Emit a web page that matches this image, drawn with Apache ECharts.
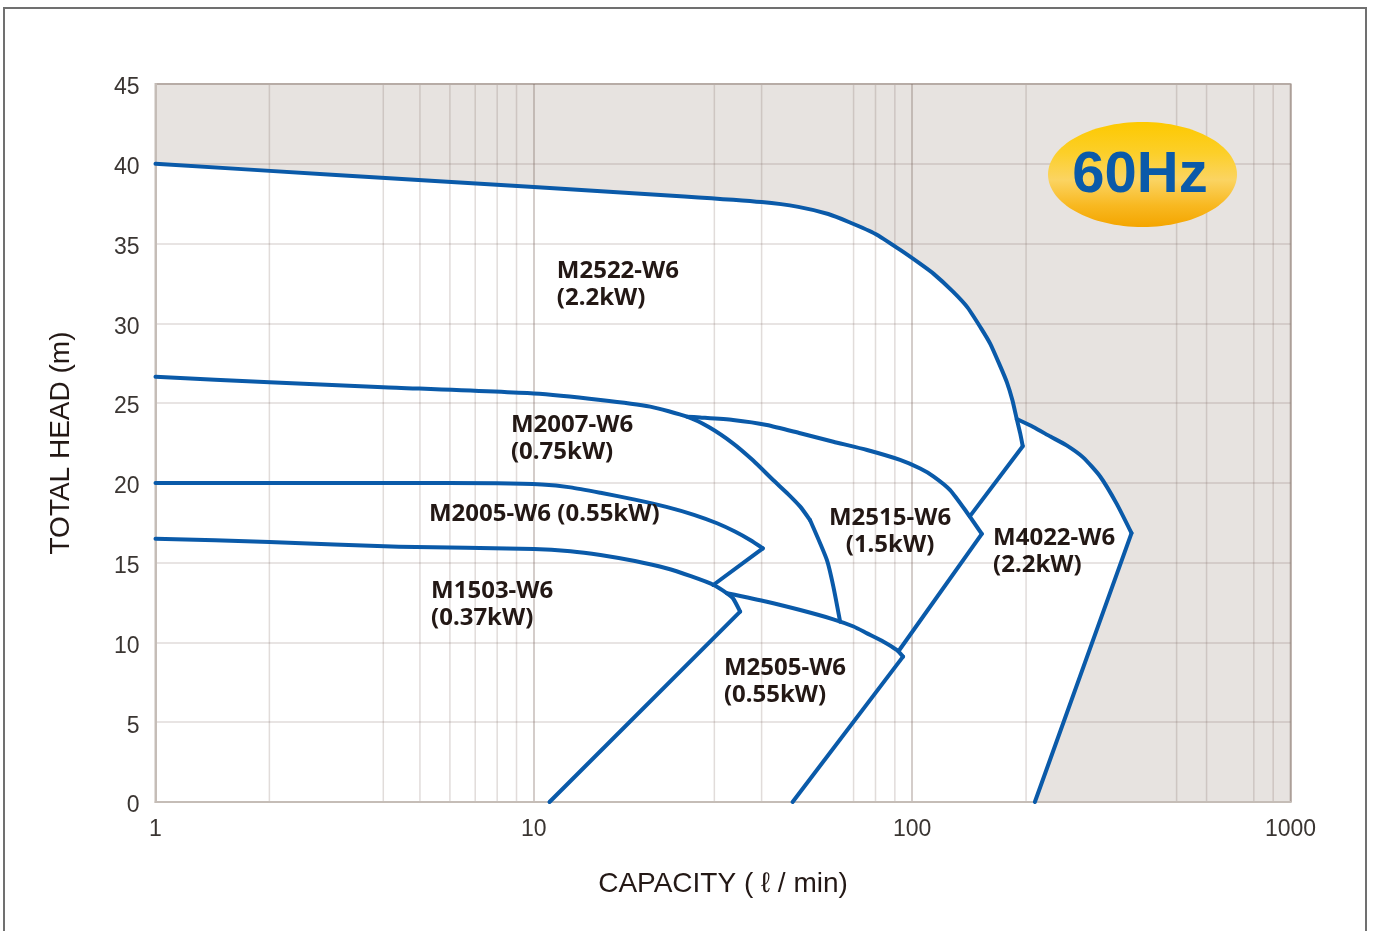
<!DOCTYPE html>
<html>
<head>
<meta charset="utf-8">
<script src="https://cdn.jsdelivr.net/npm/echarts@6/dist/echarts.min.js"></script>
<style>
html,body{margin:0;padding:0;background:#ffffff;}
#c{width:1373px;height:931px;}
</style>
</head>
<body>
<div id="c"></div>
<script>
// ---------- axis / tick data ----------
const xTickLabels = [1, 10, 100, 1000];
const yTickLabels = [0, 5, 10, 15, 20, 25, 30, 35, 40, 45];
const minorGridX = [2, 4, 5, 6, 7, 8, 9, 30, 40, 70, 80, 90, 200, 500, 600, 800, 900];

// ---------- pump curves: [capacity (l/min), total head (m)] ----------
const m2522Top = [[1,40.0],[3,39.3],[10,38.55],[25,37.95],[40,37.6],[50,37.3],[60,36.85],[68,36.35],[80,35.6],[93,34.6],[104,33.8],[114,33.1],[128,32.0],[140,31.0],[152,29.7],[161,28.7],[171,27.3],[178,26.3],[184,25.2],[189,24.0],[193,23.1],[196,22.3]];
const m2522Low = [[196,22.3],[142,17.9]];

const m4022Top = [[189,24.0],[209,23.5],[232,22.9],[256,22.35],[283,21.6],[314,20.4],[347,18.7],[380,16.85]];
const m4022Low = [[380,16.85],[211,0]];

const m2007Top = [[1,26.65],[2,26.3],[4,26.0],[10,25.6],[15,25.2],[20.3,24.78],[25.4,24.15],[29,23.5],[33.6,22.48],[38,21.4],[42.9,20.18],[47,19.3],[50.6,18.51],[53.7,17.67]];
const m2007Low = [[53.7,17.67],[59.5,15.17],[61.9,13.5],[64.5,11.3]];

const m2515Top = [[25.4,24.15],[27.5,24.1],[33.6,23.94],[41.3,23.63],[50.6,23.11],[61.9,22.58],[76,22.06],[92.9,21.44],[105,20.9],[114,20.4],[126,19.55],[140,18.1],[152.8,16.8]];
const m2515Low = [[152.8,16.8],[92,9.45]];

const m2005Top = [[1,20.0],[4.4,20.0],[8,19.98],[10.5,19.9],[12.5,19.72],[15,19.38],[18.5,18.95],[22.4,18.5],[26.5,18.0],[30.5,17.47],[34,16.95],[37.3,16.42],[40.3,15.9]];
const m2005Low = [[40.3,15.9],[29.8,13.6]];

const m1503Top = [[1,16.5],[2,16.3],[4.4,16.0],[10,15.86],[12.5,15.72],[15,15.48],[18.5,15.1],[22.4,14.65],[26,14.15],[29.9,13.6],[32.4,13.08],[33.6,12.77],[35.1,11.93]];
const m1503Low = [[35.1,11.93],[11.0,0]];

const m2505Top = [[32.4,13.08],[41.3,12.55],[50.6,12.03],[61.9,11.45],[70,11.0],[76,10.57],[84,10.05],[91,9.53],[94.6,9.11]];
const m2505Low = [[94.6,9.11],[48.3,0]];

// ---------- model labels ----------
const labelTexts = ['M2522-W6\n(2.2kW)','M2007-W6\n(0.75kW)','M2005-W6 (0.55kW)','M2515-W6\n(1.5kW)','M1503-W6\n(0.37kW)','M4022-W6\n(2.2kW)','M2505-W6\n(0.55kW)'];
const labelAnchors = [[11.5,32.45],[8.7,22.75],[5.28,18.05],[87.4,16.95],[5.35,12.35],[163.6,15.7],[31.8,7.52]];
const labelAligns = ['left','left','left','center','left','left','left'];

const badgeText = '60Hz';
const xName = 'CAPACITY ( \u2113 / min)';
const yName = 'TOTAL HEAD (m)';

// ---------- derived: white operating envelope ----------
const envelope = m2522Top.filter(p => p[0] < m4022Top[0][0])
  .concat(m4022Top)
  .concat(m4022Low.slice(1))
  .concat([[xTickLabels[0], 0]]);

const BLUE = '#0a5aa9';
const FONT = '"Liberation Sans",Arial,sans-serif';
const chart = echarts.init(document.getElementById('c'), null, {renderer:'canvas'});

function curve(data, smooth) {
  return {
    type:'line', data:data, symbol:'none', smooth:smooth,
    silent:true, z:3, clip:false,
    lineStyle:{color:BLUE, width:4, cap:'round', join:'round'}
  };
}

const option = {
  animation:false,
  backgroundColor:'#ffffff',
  grid:{left:155.5, right:82.5, top:84, bottom:129, show:true, backgroundColor:'transparent',
        borderColor:'#c5bdb7', borderWidth:2, containLabel:false, outerBoundsMode:'none'},
  xAxis:{
    type:'log', logBase:10, min:xTickLabels[0], max:xTickLabels[xTickLabels.length-1],
    name:xName, nameLocation:'middle', nameGap:68,
    nameTextStyle:{fontSize:28, color:'#231815', fontFamily:'"Liberation Sans","DejaVu Sans",Arial,sans-serif'},
    axisLine:{show:true, lineStyle:{color:'#c5bdb7', width:2}},
    axisTick:{show:false},
    axisLabel:{fontSize:23, color:'#3a3532', margin:16, fontFamily:FONT,
               formatter:v => String(Math.round(v))},
    splitLine:{show:true, lineStyle:{color:'rgba(120,95,85,0.42)', width:1.5}},
    minorTick:{show:false}, minorSplitLine:{show:false}
  },
  yAxis:{
    type:'value', min:yTickLabels[0], max:yTickLabels[yTickLabels.length-1], interval:yTickLabels[1]-yTickLabels[0],
    name:yName, nameLocation:'middle', nameGap:80,
    nameTextStyle:{fontSize:28, color:'#231815', fontFamily:FONT},
    axisLine:{show:true, lineStyle:{color:'#c5bdb7', width:2}},
    axisTick:{show:false},
    axisLabel:{margin:16, formatter:v => '{t|' + v + '}',
               rich:{t:{fontSize:23, color:'#3a3532', fontFamily:FONT, padding:[8,0,0,0]}}},
    splitLine:{show:true, lineStyle:{color:'rgba(120,95,85,0.22)', width:1.5}}
  },
  graphic:[
    {type:'rect', z:20, silent:true, shape:{x:4, y:8, width:1362, height:1000},
     style:{fill:'none', stroke:'#707070', lineWidth:2}},
    {type:'ellipse', z:20, silent:true, shape:{cx:1142.5, cy:174.5, rx:94.5, ry:52.5},
     style:{fill:new echarts.graphic.LinearGradient(0,0,0,1,[
       {offset:0, color:'#fdc900'},{offset:0.3, color:'#fccf2a'},{offset:0.55, color:'#fbd462'},
       {offset:0.8, color:'#f8b820'},{offset:1, color:'#f4a500'}])}},
    {type:'text', z:21, silent:true, x:1140, y:176,
     style:{text:badgeText, fill:'#0a5aa9', align:'center', verticalAlign:'middle',
            font:'bold 58px "Liberation Sans", Arial, sans-serif'}}
  ],
  series:[
    {
      type:'custom', z:-2, silent:true, clip:false, data:[[1,0]],
      renderItem:(params, api) => {
        const tl = api.coord([xTickLabels[0], yTickLabels[yTickLabels.length-1]]);
        const br = api.coord([xTickLabels[xTickLabels.length-1], yTickLabels[0]]);
        const pts = envelope.map(p => api.coord(p));
        return {type:'group', children:[
          {type:'rect', shape:{x:tl[0], y:tl[1], width:br[0]-tl[0], height:br[1]-tl[1]}, style:{fill:'#e7e3e0'}},
          {type:'polygon', shape:{points:pts, smooth:0}, style:{fill:'#ffffff'}}
        ]};
      }
    },
    {
      type:'custom', z:-1, silent:true, clip:false, data:minorGridX.map(v => [v, 0]),
      renderItem:(params, api) => {
        const v = api.value(0);
        const a = api.coord([v, yTickLabels[0]]);
        const b = api.coord([v, yTickLabels[yTickLabels.length-1]]);
        return {type:'line', shape:{x1:a[0], y1:a[1], x2:b[0], y2:b[1]},
                style:{stroke:'rgba(120,95,85,0.22)', lineWidth:1.5}};
      }
    },
    curve(m2522Top, 0.2), curve(m2522Low, false),
    curve(m4022Top, 0.2), curve(m4022Low, false),
    curve(m2007Top, 0.2), curve(m2007Low, 0.2),
    curve(m2515Top, 0.2), curve(m2515Low, false),
    curve(m2005Top, 0.2), curve(m2005Low, false),
    curve(m1503Top, 0.2), curve(m1503Low, false),
    curve(m2505Top, 0.2), curve(m2505Low, false),
    {
      type:'custom', z:5, silent:true, clip:false,
      data:labelAnchors.map((p, i) => [p[0], p[1], i]),
      renderItem:(params, api) => {
        const i = params.dataIndex;
        const p = api.coord([api.value(0), api.value(1)]);
        return {type:'text', x:p[0], y:p[1],
                style:{text:labelTexts[i], align:labelAligns[i], verticalAlign:'middle',
                       font:'bold 24px "Noto Sans", "Open Sans", sans-serif', lineHeight:27, fill:'#231815'}};
      }
    }
  ]
};
chart.setOption(option);
</script>
</body>
</html>
